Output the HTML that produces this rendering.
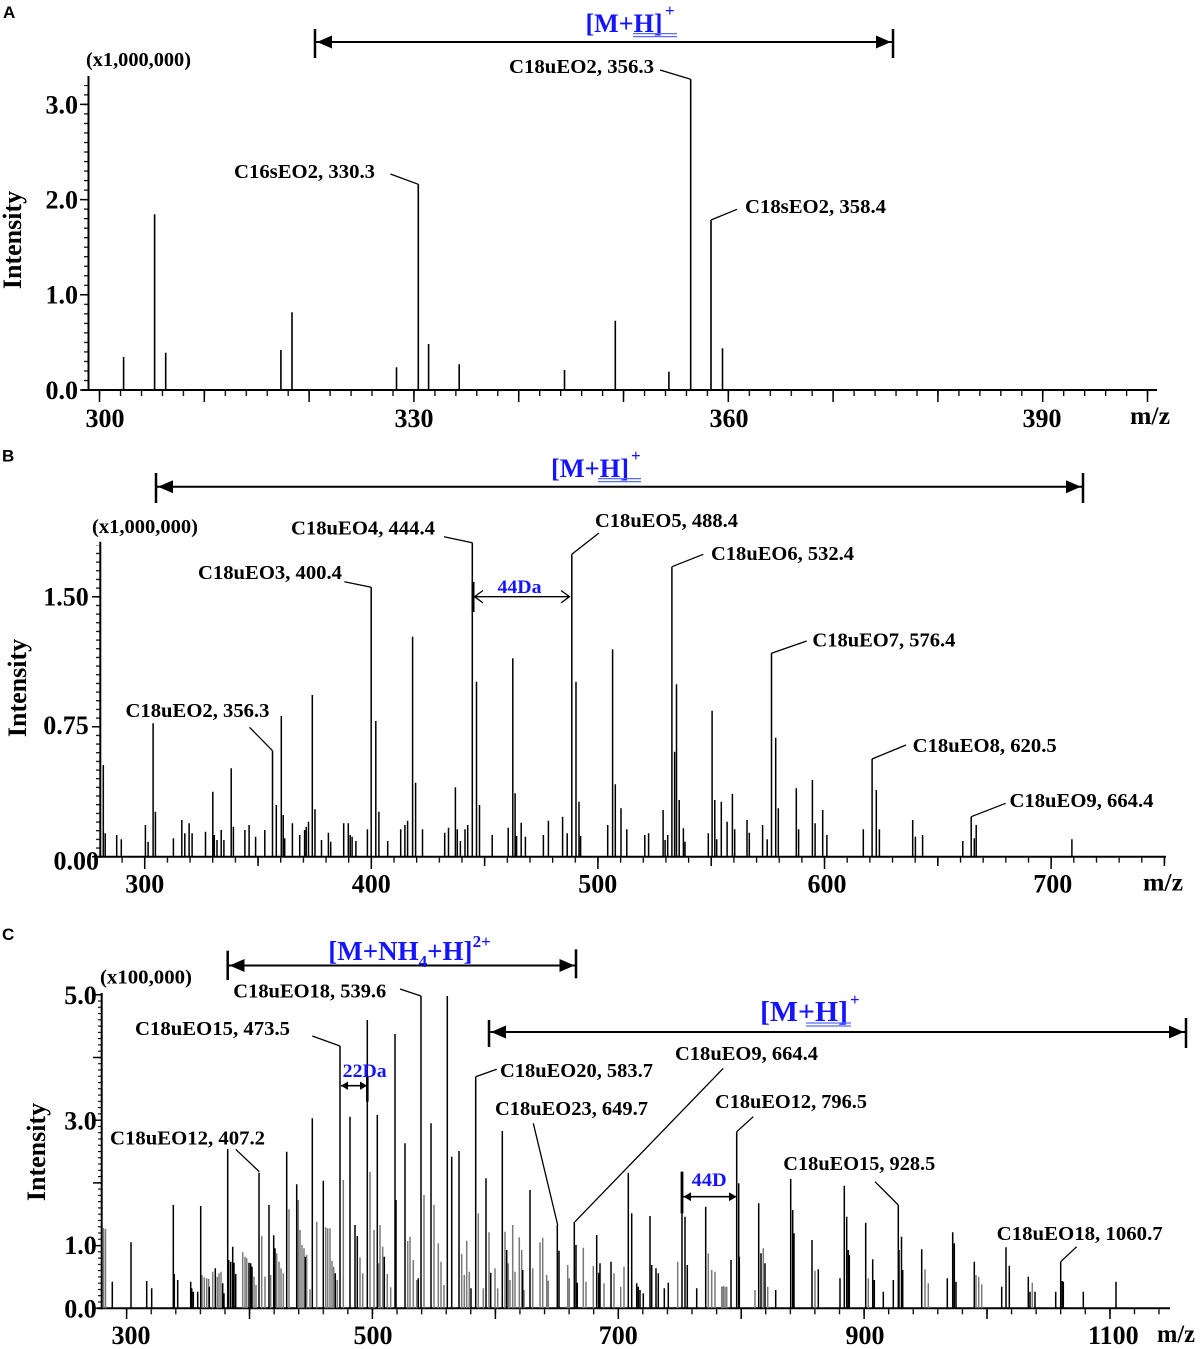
<!DOCTYPE html>
<html>
<head>
<meta charset="utf-8">
<style>
html,body{margin:0;padding:0;background:#fff;}
svg{display:block;}
.t{font-family:"Liberation Serif","DejaVu Serif",serif;font-weight:bold;fill:#000;}
.s{font-family:"Liberation Sans","DejaVu Sans",sans-serif;font-weight:bold;fill:#000;}
.b{fill:#1414ff;}
</style>
</head>
<body>
<svg width="1200" height="1349" viewBox="0 0 1200 1349" xmlns="http://www.w3.org/2000/svg">
<defs>
  <pattern id="pAy" x="0" y="389.4" width="4" height="9.52" patternUnits="userSpaceOnUse"><rect x="0" y="0" width="4" height="1.2" fill="#000"/></pattern>
  <pattern id="pAx" x="98.9" y="0" width="20.96" height="6" patternUnits="userSpaceOnUse"><rect x="0" y="0" width="1.3" height="6" fill="#000"/></pattern>
  <pattern id="pBy" x="0" y="856.1" width="4" height="8.665" patternUnits="userSpaceOnUse"><rect x="0" y="0" width="4" height="1.2" fill="#000"/></pattern>
  <pattern id="pBx" x="144.1" y="0" width="22.66" height="6" patternUnits="userSpaceOnUse"><rect x="0" y="0" width="1.3" height="6" fill="#000"/></pattern>
  <pattern id="pCy" x="0" y="1307.7" width="4" height="6.27" patternUnits="userSpaceOnUse"><rect x="0" y="0" width="4" height="1.1" fill="#000"/></pattern>
  <pattern id="pCx" x="126" y="0" width="24.58" height="6" patternUnits="userSpaceOnUse"><rect x="0" y="0" width="1.3" height="6" fill="#000"/></pattern>
</defs>
<rect width="1200" height="1349" fill="#fff"/>

<!-- ================= PANEL A ================= -->
<text class="s" x="3" y="18" font-size="17">A</text>
<!-- arrow -->
<line x1="315" y1="42" x2="893" y2="42" stroke="#000" stroke-width="2"/>
<line x1="315" y1="29" x2="315" y2="58" stroke="#000" stroke-width="2.5"/>
<line x1="893" y1="29" x2="893" y2="58" stroke="#000" stroke-width="2.5"/>
<polygon points="317,42 332,35.5 332,48.5" fill="#000"/>
<polygon points="891,42 876,35.5 876,48.5" fill="#000"/>
<text class="t b" x="585.5" y="32" font-size="26" textLength="77" lengthAdjust="spacingAndGlyphs">[M+H]</text>
<text class="t b" x="665" y="16" font-size="17">+</text>
<line x1="633" y1="33.6" x2="677" y2="33.6" stroke="#5a6cff" stroke-width="1.2"/>
<line x1="633" y1="36.6" x2="677" y2="36.6" stroke="#5a6cff" stroke-width="1.2"/>

<text class="t" x="86" y="66" font-size="20" textLength="105" lengthAdjust="spacingAndGlyphs">(x1,000,000)</text>
<!-- axes -->
<line x1="88.5" y1="76" x2="88.5" y2="391" stroke="#000" stroke-width="2"/>
<line x1="82" y1="390" x2="1157" y2="390" stroke="#000" stroke-width="2"/>
<rect x="84" y="85" width="4" height="306" fill="url(#pAy)"/>
<path d="M80 390H88M80 294.8H88M80 199.6H88M80 104.4H88" stroke="#000" stroke-width="1.5"/>
<rect x="98" y="391" width="1052" height="5" fill="url(#pAx)"/>
<path d="M99.5 390V402M204.3 390V402M309.1 390V402M413.9 390V402M518.7 390V402M623.5 390V402M728.3 390V402M833.1 390V402M937.9 390V402M1042.7 390V402M1147.5 390V402" stroke="#000" stroke-width="1.5"/>
<!-- y labels -->
<text class="t" x="78" y="113.3" font-size="26" text-anchor="end">3.0</text>
<text class="t" x="78" y="208.3" font-size="26" text-anchor="end">2.0</text>
<text class="t" x="78" y="303.3" font-size="26" text-anchor="end">1.0</text>
<text class="t" x="78" y="399" font-size="26" text-anchor="end">0.0</text>
<text class="t" transform="translate(21,240) rotate(-90)" font-size="26" text-anchor="middle">Intensity</text>
<!-- x labels -->
<text class="t" x="105" y="427" font-size="26" text-anchor="middle">300</text>
<text class="t" x="414" y="427" font-size="26" text-anchor="middle">330</text>
<text class="t" x="729" y="427" font-size="26" text-anchor="middle">360</text>
<text class="t" x="1042" y="427" font-size="26" text-anchor="middle">390</text>
<text class="t" x="1130" y="424" font-size="25" textLength="40" lengthAdjust="spacingAndGlyphs">m/z</text>
<!-- peaks -->
<path d="M123.6 390V357M154.6 390V214.3M165.7 390V352.7M280.9 390V350M292 390V312.3M396.5 390V367.3M418.3 390V184.3M428.6 390V344M459.2 390V364.3M564.5 390V370M615.3 390V320.7M668.9 390V371.7M690.7 390V79.3M711 390V220M722.5 390V348.3" stroke="#000" stroke-width="1.6" fill="none"/>
<!-- labels -->
<text class="t" x="234" y="178" font-size="20" textLength="141" lengthAdjust="spacingAndGlyphs">C16sEO2, 330.3</text>
<path d="M390.4 174L418.3 184.3" stroke="#000" stroke-width="1.3"/>
<text class="t" x="509" y="73" font-size="20" textLength="145" lengthAdjust="spacingAndGlyphs">C18uEO2, 356.3</text>
<path d="M660 70L690.7 79.3" stroke="#000" stroke-width="1.3"/>
<text class="t" x="745" y="213" font-size="20" textLength="141" lengthAdjust="spacingAndGlyphs">C18sEO2, 358.4</text>
<path d="M711 220L737 209.3" stroke="#000" stroke-width="1.3"/>

<!-- ================= PANEL B ================= -->
<text class="s" x="2" y="461.7" font-size="17">B</text>
<line x1="156" y1="486.7" x2="1083" y2="486.7" stroke="#000" stroke-width="2"/>
<line x1="156" y1="473" x2="156" y2="503" stroke="#000" stroke-width="2.5"/>
<line x1="1083" y1="473" x2="1083" y2="503" stroke="#000" stroke-width="2.5"/>
<polygon points="158,486.7 173,480.2 173,493.2" fill="#000"/>
<polygon points="1081,486.7 1066,480.2 1066,493.2" fill="#000"/>
<text class="t b" x="551" y="477" font-size="26" textLength="78" lengthAdjust="spacingAndGlyphs">[M+H]</text>
<text class="t b" x="631" y="461" font-size="17">+</text>
<line x1="598" y1="478.6" x2="641" y2="478.6" stroke="#5a6cff" stroke-width="1.2"/>
<line x1="598" y1="481.6" x2="641" y2="481.6" stroke="#5a6cff" stroke-width="1.2"/>

<text class="t" x="92" y="533" font-size="20" textLength="106" lengthAdjust="spacingAndGlyphs">(x1,000,000)</text>
<line x1="100.3" y1="541.7" x2="100.3" y2="857.7" stroke="#000" stroke-width="2"/>
<line x1="95" y1="856.7" x2="1166" y2="856.7" stroke="#000" stroke-width="2"/>
<rect x="96" y="545" width="4" height="312" fill="url(#pBy)"/>
<path d="M92 856.7H100M92 726.7H100M92 596.7H100" stroke="#000" stroke-width="1.5"/>
<rect x="102" y="857.7" width="1064" height="5" fill="url(#pBx)"/>
<path d="M144.7 856.7V869M371.3 856.7V869M597.9 856.7V869M824.5 856.7V869M1051.1 856.7V869M258 856.7V866M484.6 856.7V866M711.2 856.7V866M937.8 856.7V866M1164.4 856.7V866" stroke="#000" stroke-width="1.5"/>
<text class="t" x="88.8" y="605.7" font-size="26" text-anchor="end">1.50</text>
<text class="t" x="88.8" y="734" font-size="26" text-anchor="end">0.75</text>
<text class="t" x="99" y="869.7" font-size="26" text-anchor="end">0.00</text>
<text class="t" transform="translate(26,688) rotate(-90)" font-size="26" text-anchor="middle">Intensity</text>
<text class="t" x="144.7" y="892.3" font-size="26" text-anchor="middle">300</text>
<text class="t" x="371.2" y="892.3" font-size="26" text-anchor="middle">400</text>
<text class="t" x="597.8" y="892.3" font-size="26" text-anchor="middle">500</text>
<text class="t" x="827" y="892.3" font-size="26" text-anchor="middle">600</text>
<text class="t" x="1052.7" y="892.3" font-size="26" text-anchor="middle">700</text>
<text class="t" x="1143" y="890.7" font-size="25" textLength="40" lengthAdjust="spacingAndGlyphs">m/z</text>
<path d="M103.3 856.7V765M105.2 856.7V833.3M116.7 856.7V835M121.3 856.7V839.3M145.4 856.7V825M148.1 856.7V841.7M153.1 856.7V723.3M155.4 856.7V811.7M173.4 856.7V838.3M181.8 856.7V820M184.8 856.7V833.3M189.1 856.7V823.3M192.1 856.7V833.3M205.5 856.7V831.7M212.8 856.7V791.7M214.3 856.7V835M217 856.7V840M221.2 856.7V830M223.9 856.7V840M231.2 856.7V768.3M233.4 856.7V826.7M244.9 856.7V830M249.1 856.7V825M255.6 856.7V836.7M264.8 856.7V830M272.5 856.7V750.7M276.3 856.7V805M281.3 856.7V716M283.2 856.7V815M284.7 856.7V838.3M292.4 856.7V823.3M299.7 856.7V835M304.6 856.7V830M306.2 856.7V826.7M308.5 856.7V821.7M312.3 856.7V695M315 856.7V809.3M321.5 856.7V840M328.4 856.7V832.7M330.7 856.7V841.7M343.7 856.7V823.3M348.3 856.7V823.3M350.2 856.7V835M352.1 856.7V836.7M355.9 856.7V841M367.4 856.7V829.3M371.2 856.7V587.3M375.8 856.7V721M378.9 856.7V811.7M387.7 856.7V841M400.7 856.7V829.3M404.9 856.7V825M407.6 856.7V820.7M412.6 856.7V636.7M415.6 856.7V782.7M422.5 856.7V829.3M444.7 856.7V832.7M448.5 856.7V827.7M455.4 856.7V787.3M457.3 856.7V829.3M460.4 856.7V841M465 856.7V829.3M467.7 856.7V825M472.3 856.7V542.7M476.5 856.7V681.7M479.5 856.7V805M492.2 856.7V835M508.2 856.7V827.7M512.8 856.7V658.3M515.1 856.7V793.3M516.6 856.7V836M521.2 856.7V822.7M525.4 856.7V836.7M543.4 856.7V835M548.4 856.7V820.7M562.6 856.7V816.7M567.2 856.7V833.3M571.8 856.7V554.3M576 856.7V681.7M579 856.7V801.7M580.6 856.7V836M607.7 856.7V825M612.6 856.7V649.3M615.3 856.7V784.3M621 856.7V808.3M626.8 856.7V829.3M644.8 856.7V835M648.6 856.7V833.3M663.1 856.7V810M665.1 856.7V840M667.7 856.7V835M671.9 856.7V566.7M674.6 856.7V751.7M676.5 856.7V684.3M679.2 856.7V800M683.4 856.7V828.3M685 856.7V841.7M708.3 856.7V833.3M712.1 856.7V710.7M714.8 856.7V800M716.7 856.7V839.3M721.3 856.7V801.7M727.1 856.7V821.7M732.4 856.7V794M734.7 856.7V829.3M747 856.7V820M749.3 856.7V832.7M762.6 856.7V825M767.2 856.7V839.3M771.5 856.7V653.3M775.7 856.7V737.7M778.3 856.7V808.3M796.3 856.7V788.3M798.6 856.7V829.3M812.4 856.7V780M815.1 856.7V823.3M822.7 856.7V810M826.9 856.7V835M863.3 856.7V829.3M872.1 856.7V759M876.3 856.7V790M879.4 856.7V829.3M912.7 856.7V820M915.4 856.7V836.7M922.6 856.7V835M962.8 856.7V841M971.2 856.7V816.7M974.3 856.7V838.3M976.2 856.7V825M1071.9 856.7V839.3" stroke="#000" stroke-width="1.5" fill="none"/>
<!-- B labels -->
<text class="t" x="291" y="534.5" font-size="20" textLength="144" lengthAdjust="spacingAndGlyphs">C18uEO4, 444.4</text>
<path d="M444 536.7L472.3 542.7" stroke="#000" stroke-width="1.3"/>
<text class="t" x="198" y="579" font-size="20" textLength="144" lengthAdjust="spacingAndGlyphs">C18uEO3, 400.4</text>
<path d="M344.4 581.7L371.2 587.3" stroke="#000" stroke-width="1.3"/>
<text class="t" x="125.5" y="717" font-size="20" textLength="144" lengthAdjust="spacingAndGlyphs">C18uEO2, 356.3</text>
<path d="M249.5 727.3L272.5 750.7" stroke="#000" stroke-width="1.3"/>
<text class="t" x="595" y="527" font-size="20" textLength="143" lengthAdjust="spacingAndGlyphs">C18uEO5, 488.4</text>
<path d="M571.8 554.3L599 533" stroke="#000" stroke-width="1.3"/>
<text class="t" x="711" y="560" font-size="20" textLength="143" lengthAdjust="spacingAndGlyphs">C18uEO6, 532.4</text>
<path d="M672 566.7L703.3 554.3" stroke="#000" stroke-width="1.3"/>
<text class="t" x="812.4" y="646.5" font-size="20" textLength="143" lengthAdjust="spacingAndGlyphs">C18uEO7, 576.4</text>
<path d="M771.5 653.3L806.7 641" stroke="#000" stroke-width="1.3"/>
<text class="t" x="912.7" y="752" font-size="20" textLength="144" lengthAdjust="spacingAndGlyphs">C18uEO8, 620.5</text>
<path d="M872 759L906 745" stroke="#000" stroke-width="1.3"/>
<text class="t" x="1009.5" y="807" font-size="20" textLength="144" lengthAdjust="spacingAndGlyphs">C18uEO9, 664.4</text>
<path d="M971.2 816.7L1005.7 803.3" stroke="#000" stroke-width="1.3"/>
<!-- 44Da -->
<text class="t b" x="497.5" y="593" font-size="19" textLength="44" lengthAdjust="spacingAndGlyphs">44Da</text>
<line x1="474" y1="596.7" x2="570" y2="596.7" stroke="#000" stroke-width="1.3"/>
<polyline points="483,590.5 474.5,596.7 483,602.9" fill="none" stroke="#000" stroke-width="1.3"/>
<polyline points="561,590.5 569.5,596.7 561,602.9" fill="none" stroke="#000" stroke-width="1.3"/>
<line x1="473" y1="582" x2="473" y2="612" stroke="#000" stroke-width="3"/>

<!-- ================= PANEL C ================= -->
<text class="s" x="2" y="940" font-size="17">C</text>
<!-- NH4 arrow -->
<line x1="228" y1="965.5" x2="576" y2="965.5" stroke="#000" stroke-width="2"/>
<line x1="227.7" y1="950.7" x2="227.7" y2="980" stroke="#000" stroke-width="2.5"/>
<line x1="576" y1="949.3" x2="576" y2="978.3" stroke="#000" stroke-width="2.5"/>
<polygon points="229.5,965.5 244.5,959 244.5,972" fill="#000"/>
<polygon points="574.5,965.5 559.5,959 559.5,972" fill="#000"/>
<text class="t b" x="328.3" y="960" font-size="27">[M+NH<tspan font-size="17" dy="7">4</tspan><tspan dy="-7">+H]</tspan><tspan font-size="17" dy="-13">2+</tspan></text>
<!-- [M+H]+ arrow -->
<line x1="489" y1="1032" x2="1186" y2="1032" stroke="#000" stroke-width="2"/>
<line x1="489" y1="1020" x2="489" y2="1047" stroke="#000" stroke-width="2.5"/>
<line x1="1186" y1="1018" x2="1186" y2="1048" stroke="#000" stroke-width="2.5"/>
<polygon points="491,1032 506,1025.5 506,1038.5" fill="#000"/>
<polygon points="1184,1032 1169,1025.5 1169,1038.5" fill="#000"/>
<text class="t b" x="760" y="1021" font-size="28" textLength="88" lengthAdjust="spacingAndGlyphs">[M+H]</text>
<text class="t b" x="850" y="1005" font-size="17">+</text>
<line x1="806" y1="1023" x2="851" y2="1023" stroke="#5a6cff" stroke-width="1.2"/>
<line x1="806" y1="1026" x2="851" y2="1026" stroke="#5a6cff" stroke-width="1.2"/>

<text class="t" x="100" y="983.5" font-size="20" textLength="92" lengthAdjust="spacingAndGlyphs">(x100,000)</text>
<line x1="101.7" y1="993" x2="101.7" y2="1309.3" stroke="#000" stroke-width="2"/>
<line x1="97" y1="1308.3" x2="1170" y2="1308.3" stroke="#000" stroke-width="2"/>
<rect x="98" y="995" width="4" height="314" fill="url(#pCy)"/>
<path d="M93 1308.3H101.7M93 1245.6H101.7M93 1182.9H101.7M93 1120.2H101.7M93 1057.5H101.7M93 994.8H101.7" stroke="#000" stroke-width="1.5"/>
<rect x="103" y="1309.3" width="1067" height="5" fill="url(#pCx)"/>
<path d="M126.6 1308.3V1319M249.5 1308.3V1319M372.4 1308.3V1319M495.4 1308.3V1319M618.3 1308.3V1319M741.2 1308.3V1319M864.1 1308.3V1319M987 1308.3V1319M1110 1308.3V1319" stroke="#000" stroke-width="1.5"/>
<text class="t" x="96.7" y="1004" font-size="26" text-anchor="end">5.0</text>
<text class="t" x="96.7" y="1129.7" font-size="26" text-anchor="end">3.0</text>
<text class="t" x="96.7" y="1254" font-size="26" text-anchor="end">1.0</text>
<text class="t" x="96.7" y="1317.3" font-size="26" text-anchor="end">0.0</text>
<text class="t" transform="translate(45,1152) rotate(-90)" font-size="26" text-anchor="middle">Intensity</text>
<text class="t" x="131" y="1344" font-size="26" text-anchor="middle">300</text>
<text class="t" x="373" y="1344" font-size="26" text-anchor="middle">500</text>
<text class="t" x="618.3" y="1344" font-size="26" text-anchor="middle">700</text>
<text class="t" x="865" y="1344" font-size="26" text-anchor="middle">900</text>
<text class="t" x="1113.3" y="1344" font-size="26" text-anchor="middle">1100</text>
<text class="t" x="1157" y="1342" font-size="25" textLength="38" lengthAdjust="spacingAndGlyphs">m/z</text>
<!-- gray peaks -->
<path d="M103.5 1308.3V1228M105.5 1308.3V1229M202 1308.3V1275M204.3 1308.3V1277.3M206.7 1308.3V1278.3M208.7 1308.3V1279M212.7 1308.3V1271.7M217.3 1308.3V1276.7M219 1308.3V1273.3M221 1308.3V1271.7M242.7 1308.3V1252.3M245 1308.3V1256.7M246.7 1308.3V1258.3M254 1308.3V1276.7M256 1308.3V1285M261.7 1308.3V1235.7M265 1308.3V1276.7M270.7 1308.3V1275M276.7 1308.3V1253.3M279 1308.3V1261.7M281 1308.3V1268.3M283.3 1308.3V1273.3M289 1308.3V1209.3M298.3 1308.3V1200M300 1308.3V1230M302 1308.3V1245M304 1308.3V1248.3M306.7 1308.3V1255M310 1308.3V1289.3M316.7 1308.3V1221.7M325.7 1308.3V1227.3M327.7 1308.3V1228.3M330 1308.3V1228.3M332 1308.3V1261M333.7 1308.3V1266.7M337.3 1308.3V1280M343.3 1308.3V1180M360 1308.3V1257.3M362.7 1308.3V1273.3M370 1308.3V1171.7M374 1308.3V1230M378.7 1308.3V1263.3M380 1308.3V1225M382.7 1308.3V1246.7M387.3 1308.3V1274M390.7 1308.3V1287.3M407.7 1308.3V1241M410 1308.3V1236.7M413.3 1308.3V1260M416.7 1308.3V1280M424 1308.3V1195M434 1308.3V1205M438.3 1308.3V1243.3M441 1308.3V1261.7M444 1308.3V1285M461.7 1308.3V1254M464.3 1308.3V1275M466.7 1308.3V1240.7M469.3 1308.3V1271.7M478.3 1308.3V1213.3M483.3 1308.3V1288.3M489 1308.3V1232.3M495 1308.3V1268.3M497.7 1308.3V1288.3M505 1308.3V1231.7M508.3 1308.3V1263.3M510 1308.3V1280M512.7 1308.3V1225M515 1308.3V1271.7M519.3 1308.3V1237.3M521.7 1308.3V1250M524 1308.3V1290M532.7 1308.3V1268.3M540 1308.3V1242.3M542.7 1308.3V1237.7M546.7 1308.3V1275M548.3 1308.3V1280.7M567.7 1308.3V1265M569.3 1308.3V1278.3M583.3 1308.3V1247.7M586 1308.3V1281.7M593.3 1308.3V1266M604 1308.3V1283.3M614 1308.3V1273.3M620.7 1308.3V1286.7M624 1308.3V1266.7M677.7 1308.3V1261.7M708.3 1308.3V1253.3M711.7 1308.3V1270M715 1308.3V1271.7M721.7 1308.3V1286.7M723.3 1308.3V1286M725 1308.3V1286.7M726.7 1308.3V1286.7M755 1308.3V1290M763.3 1308.3V1248.3M767.7 1308.3V1286.7M815 1308.3V1270.7M868.3 1308.3V1278.3M925 1308.3V1269.3M928.3 1308.3V1283.3M976 1308.3V1275M978.7 1308.3V1276.7M981.7 1308.3V1284.3M1032.3 1308.3V1282.7" stroke="#7a7a7a" stroke-width="1.5" fill="none"/>
<!-- black peaks -->
<path d="M112.3 1308.3V1281.7M131 1308.3V1242.3M146.7 1308.3V1281M151.7 1308.3V1288.3M173.3 1308.3V1205M174.3 1308.3V1274M177.7 1308.3V1280M190.7 1308.3V1281.7M191.7 1308.3V1288.3M193.3 1308.3V1291.7M197.7 1308.3V1291.7M200.7 1308.3V1206M209.3 1308.3V1286.7M215.3 1308.3V1268.3M222.7 1308.3V1283.3M224 1308.3V1293.3M227.7 1308.3V1149M228.7 1308.3V1260M230.7 1308.3V1261.7M232.7 1308.3V1246.7M234 1308.3V1262.7M235.7 1308.3V1274M249 1308.3V1262.7M250.7 1308.3V1263.3M252 1308.3V1266.7M259 1308.3V1172.7M269 1308.3V1205M273.7 1308.3V1235.3M275 1308.3V1248.3M286.7 1308.3V1151.7M296.7 1308.3V1184.3M305.3 1308.3V1256.7M312.3 1308.3V1118.3M323.3 1308.3V1180.7M335.3 1308.3V1273.3M340 1308.3V1046M350 1308.3V1116.7M355 1308.3V1225M357.3 1308.3V1236M367.3 1308.3V1020M377.3 1308.3V1115M384.3 1308.3V1256.7M395 1308.3V1034M396 1308.3V1200M405 1308.3V1143.3M418.3 1308.3V1278.3M421 1308.3V996M431 1308.3V1123.3M447.3 1308.3V996M451.7 1308.3V1156.7M459 1308.3V1151M471 1308.3V1288.3M475.7 1308.3V1076.7M486 1308.3V1178.3M490.7 1308.3V1272.7M502.3 1308.3V1131M506.7 1308.3V1250M522.7 1308.3V1270M530 1308.3V1190M557.3 1308.3V1225M559 1308.3V1250.7M574.3 1308.3V1221.7M576 1308.3V1245M577.3 1308.3V1282.7M596.7 1308.3V1235M598.7 1308.3V1272.7M600 1308.3V1263.3M611 1308.3V1261.7M628.3 1308.3V1172.7M631.7 1308.3V1213.3M636.7 1308.3V1283.3M638.3 1308.3V1286.7M640 1308.3V1290M643.3 1308.3V1293.3M650 1308.3V1216M651.7 1308.3V1265M656 1308.3V1268.3M658.3 1308.3V1273.3M664.3 1308.3V1288.3M668.3 1308.3V1282.7M682 1308.3V1171.7M685 1308.3V1216.7M687.3 1308.3V1265M696.7 1308.3V1288.3M705.7 1308.3V1206.7M731 1308.3V1260M736.7 1308.3V1131.7M738.7 1308.3V1183.3M739.3 1308.3V1256.7M758.7 1308.3V1203.3M761 1308.3V1253.3M765 1308.3V1263.3M775.7 1308.3V1290M790.7 1308.3V1179M792.7 1308.3V1210M794 1308.3V1233.3M812 1308.3V1240M818.3 1308.3V1269.3M840 1308.3V1278.3M844.3 1308.3V1185.7M846.7 1308.3V1216.7M848.3 1308.3V1250M849.3 1308.3V1255M865.7 1308.3V1222.7M872.7 1308.3V1259.3M874.3 1308.3V1280M883.3 1308.3V1291.7M893.3 1308.3V1280M898.3 1308.3V1205M899 1308.3V1250M901.5 1308.3V1236.7M902.7 1308.3V1270M921.7 1308.3V1249.3M947.3 1308.3V1278.3M952.7 1308.3V1232.3M954.3 1308.3V1243.3M956 1308.3V1281.7M974.3 1308.3V1261.7M1001.7 1308.3V1286.7M1006 1308.3V1247.3M1009.3 1308.3V1265.7M1028.3 1308.3V1276.7M1030 1308.3V1291.7M1035 1308.3V1291.7M1055.7 1308.3V1291.7M1060.7 1308.3V1261.7M1062.3 1308.3V1281M1063.3 1308.3V1281.7M1083.3 1308.3V1291.7M1116 1308.3V1281.7" stroke="#000" stroke-width="1.5" fill="none"/>
<!-- C labels -->
<text class="t" x="233.3" y="997.5" font-size="20" textLength="153" lengthAdjust="spacingAndGlyphs">C18uEO18, 539.6</text>
<path d="M400 989L421 996" stroke="#000" stroke-width="1.3"/>
<text class="t" x="135" y="1035" font-size="20" textLength="155" lengthAdjust="spacingAndGlyphs">C18uEO15, 473.5</text>
<path d="M312.3 1036L340 1046" stroke="#000" stroke-width="1.3"/>
<text class="t" x="110" y="1144.5" font-size="20" textLength="155" lengthAdjust="spacingAndGlyphs">C18uEO12, 407.2</text>
<path d="M235.7 1149.3L259.3 1171.7" stroke="#000" stroke-width="1.3"/>
<text class="t" x="500" y="1077" font-size="20" textLength="153" lengthAdjust="spacingAndGlyphs">C18uEO20, 583.7</text>
<path d="M475.7 1076.7L496.7 1069.3" stroke="#000" stroke-width="1.3"/>
<text class="t" x="495" y="1115" font-size="20" textLength="153" lengthAdjust="spacingAndGlyphs">C18uEO23, 649.7</text>
<path d="M533.3 1123.3L557.7 1225" stroke="#000" stroke-width="1.3"/>
<text class="t" x="675" y="1060" font-size="20" textLength="143" lengthAdjust="spacingAndGlyphs">C18uEO9, 664.4</text>
<path d="M575 1221.7L723.3 1068.3" stroke="#000" stroke-width="1.3"/>
<text class="t" x="715" y="1108" font-size="20" textLength="152" lengthAdjust="spacingAndGlyphs">C18uEO12, 796.5</text>
<path d="M736.7 1131.7L753.3 1116.7" stroke="#000" stroke-width="1.3"/>
<text class="t" x="783.3" y="1170" font-size="20" textLength="152" lengthAdjust="spacingAndGlyphs">C18uEO15, 928.5</text>
<path d="M875 1181.7L898.3 1205" stroke="#000" stroke-width="1.3"/>
<text class="t" x="996.7" y="1240" font-size="20" textLength="166" lengthAdjust="spacingAndGlyphs">C18uEO18, 1060.7</text>
<path d="M1060.7 1261.7L1076.7 1246.7" stroke="#000" stroke-width="1.3"/>
<!-- 22Da -->
<text class="t b" x="342.7" y="1077" font-size="19" textLength="44" lengthAdjust="spacingAndGlyphs">22Da</text>
<line x1="341" y1="1085.7" x2="367" y2="1085.7" stroke="#000" stroke-width="1.6"/>
<polygon points="341,1085.7 348,1081.5 348,1089.9" fill="#000"/>
<polygon points="367,1085.7 360,1081.5 360,1089.9" fill="#000"/>
<line x1="367.3" y1="1076.7" x2="367.3" y2="1101.7" stroke="#000" stroke-width="2.6"/>
<!-- 44D -->
<text class="t b" x="691.7" y="1186" font-size="19" textLength="35" lengthAdjust="spacingAndGlyphs">44D</text>
<line x1="683" y1="1196.7" x2="737" y2="1196.7" stroke="#000" stroke-width="1.6"/>
<polygon points="683.5,1196.7 691,1192.3 691,1201.1" fill="#000"/>
<polygon points="736.5,1196.7 729,1192.3 729,1201.1" fill="#000"/>
<line x1="682" y1="1171.7" x2="682" y2="1213.3" stroke="#000" stroke-width="2.8"/>
</svg>
</body>
</html>
